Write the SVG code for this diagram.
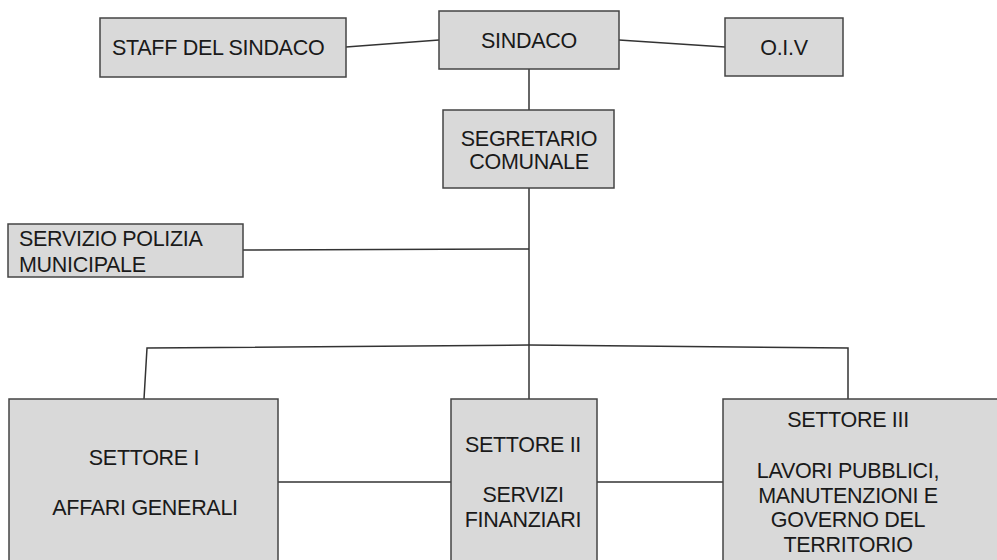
<svg xmlns="http://www.w3.org/2000/svg" width="997" height="560" viewBox="0 0 997 560">
<style>
.box{fill:#d9d9d9;stroke:#444;stroke-width:1.5}
.t{font-family:"Liberation Sans",Arial,sans-serif;font-size:21.5px;letter-spacing:-0.3px;fill:#1a1a1a}
.c{text-anchor:middle}
.ln{stroke:#333;stroke-width:1.5;fill:none}
</style>
<rect width="997" height="560" fill="#fff"/>
<g id="connectors">
<path class="ln" d="M346 47 L439 40"/>
<path class="ln" d="M619 40 L725 47"/>
<path class="ln" d="M529 69 L529 110"/>
<path class="ln" d="M529 188 L529 399"/>
<path class="ln" d="M243 250 L529 249"/>
<path class="ln" d="M144 399 L147 348 L529 345 L848 348 L848 399"/>
<path class="ln" d="M278 482 L451 482"/>
<path class="ln" d="M597 482 L723 482"/>
</g>
<g id="staff">
<rect class="box" x="100" y="18" width="246" height="59"/>
<text class="t" x="112" y="55">STAFF DEL SINDACO</text>
</g>
<g id="sindaco">
<rect class="box" x="439" y="11" width="180" height="58"/>
<text class="t c" x="529" y="48">SINDACO</text>
</g>
<g id="oiv">
<rect class="box" x="725" y="18" width="118" height="58"/>
<text class="t c" x="784" y="55">O.I.V</text>
</g>
<g id="segretario">
<rect class="box" x="443" y="110" width="171" height="78"/>
<text class="t c" x="529" y="146">SEGRETARIO</text>
<text class="t c" x="529" y="169">COMUNALE</text>
</g>
<g id="polizia">
<rect class="box" x="8" y="224" width="235" height="53"/>
<text class="t" x="19" y="246">SERVIZIO POLIZIA</text>
<text class="t" x="19" y="272">MUNICIPALE</text>
</g>
<g id="settore1">
<rect class="box" x="9" y="399" width="269" height="180"/>
<text class="t c" x="144" y="465">SETTORE I</text>
<text class="t c" x="145" y="515">AFFARI GENERALI</text>
</g>
<g id="settore2">
<rect class="box" x="451" y="399" width="146" height="180"/>
<text class="t c" x="523" y="452">SETTORE II</text>
<text class="t c" x="523" y="502">SERVIZI</text>
<text class="t c" x="523" y="527">FINANZIARI</text>
</g>
<g id="settore3">
<rect class="box" x="723" y="399" width="300" height="180"/>
<text class="t c" x="848" y="427">SETTORE III</text>
<text class="t c" x="848" y="478">LAVORI PUBBLICI,</text>
<text class="t c" x="848" y="503">MANUTENZIONI E</text>
<text class="t c" x="848" y="527">GOVERNO DEL</text>
<text class="t c" x="848" y="552">TERRITORIO</text>
</g>
</svg>
